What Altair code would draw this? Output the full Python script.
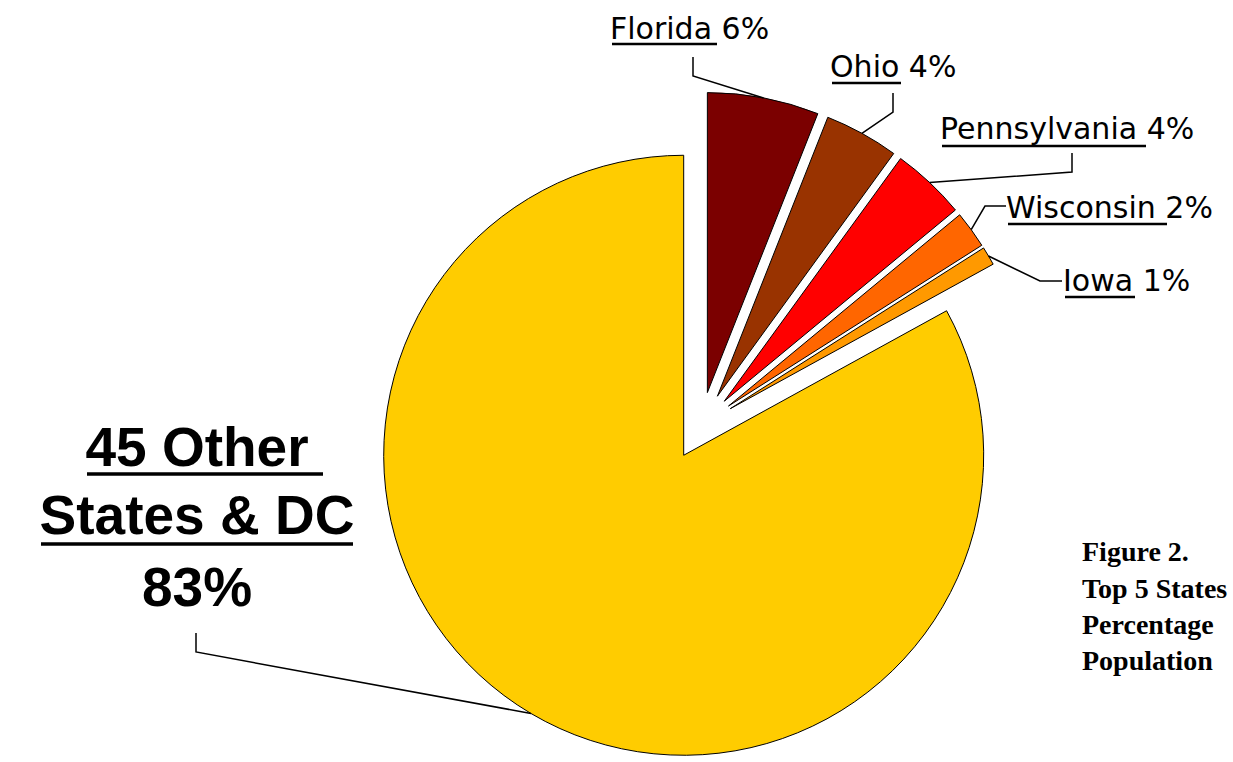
import math
import altair as alt
import pandas as pd

# ---------------- data ----------------
names = ["Florida", "Ohio", "Pennsylvania", "Wisconsin", "Iowa", "45 Other States & DC"]
shares = [6, 4, 4, 2, 1, 83]
colors = ["#7b0000", "#993300", "#ff0000", "#ff6600", "#ff9900", "#ffcc00"]

other_lines = ["45 Other", "States & DC", "83%"]
caption_lines = ["Figure 2.", "Top 5 States", "Percentage", "Population"]

# ---------------- layout ----------------
W, H = 1233, 762
CX, CY = 701, 426          # true pie centre (pixels)
R = 300                    # pie radius
EXPLODE = 34               # every slice pulled out along its bisector

# small labels: left x, baseline y, underline (x1, x2, y), leader start points
small_layout = {
    "Florida":      dict(x=610,  y=39,  ul=(612, 717, 44),   lead=[(693, 57), (693, 76)]),
    "Ohio":         dict(x=830,  y=77,  ul=(832, 901, 83),   lead=[(893, 93), (893, 112)]),
    "Pennsylvania": dict(x=940,  y=139, ul=(942, 1146, 146), lead=[(1072, 153), (1072, 172)]),
    "Wisconsin":    dict(x=1006, y=218, ul=(1008, 1167, 224), lead=[(1006, 206), (985, 206)]),
    "Iowa":         dict(x=1063, y=291, ul=(1065, 1135, 297), lead=[(1062, 281), (1040, 281)]),
}
other_layout = dict(x=197, ys=[466, 534, 606],
                    uls=[(87, 323, 474), (41, 353, 544)],
                    lead=[(196, 633), (196, 652)])
caption_layout = dict(x=1082, ys=[561, 598, 634, 670])

# ---------------- derived tables ----------------
total = float(sum(shares))
slice_rows = []
cum = 0.0
for i, (n, s) in enumerate(zip(names, shares)):
    start, end = cum, cum + s
    cum = end
    mid = (start + end) / 2 / total * 2 * math.pi
    slice_rows.append(dict(
        order=i, name=n, share=s,
        start=start / total * 100, end=end / total * 100,
        cx=CX + EXPLODE * math.sin(mid), cy=CY - EXPLODE * math.cos(mid),
        ex=CX + (EXPLODE + R) * math.sin(mid), ey=CY - (EXPLODE + R) * math.cos(mid),
    ))
slices = pd.DataFrame(slice_rows)

line_rows, ul_rows, text_rows = [], [], []
for r in slice_rows:
    n = r["name"]
    if n in small_layout:
        L = small_layout[n]
        text_rows.append(dict(name=n, label=f"{n} {r['share']}%", x=L["x"], y=L["y"]))
        x1, x2, yy = L["ul"]
        ul_rows.append(dict(name=n, x1=x1, x2=x2, y=yy, w=2.5))
        pts = L["lead"]
    else:
        for j, (x1, x2, yy) in enumerate(other_layout["uls"]):
            ul_rows.append(dict(name=f"{n}{j}", x1=x1, x2=x2, y=yy, w=3.5))
        pts = other_layout["lead"]
    pts = pts + [(r["ex"], r["ey"])]
    for k, (px_, py_) in enumerate(pts):
        line_rows.append(dict(name=n, seq=k, px=px_, py=py_))

lines_df = pd.DataFrame(line_rows)
ul_df = pd.DataFrame(ul_rows)
small_df = pd.DataFrame(text_rows)
other_df = pd.DataFrame(dict(label=other_lines, x=[other_layout["x"]] * 3, y=other_layout["ys"]))
cap_df = pd.DataFrame(dict(label=caption_lines, x=[caption_layout["x"]] * 4, y=caption_layout["ys"]))

# ---------------- chart ----------------
def px(field):
    return alt.X(f"{field}:Q", scale=None, axis=None)

def py(field):
    return alt.Y(f"{field}:Q", scale=None, axis=None)

pie = alt.Chart(slices).mark_arc(radius=R, stroke="black", strokeWidth=1).encode(
    theta=alt.Theta("start:Q", scale=alt.Scale(domain=[0, 100], range=[0, 2 * math.pi])),
    theta2=alt.Theta2("end:Q"),
    x=px("cx"), y=py("cy"),
    color=alt.Color("name:N", scale=alt.Scale(domain=names, range=colors), legend=None),
    order=alt.Order("order:Q"),
)

leaders = alt.Chart(lines_df).mark_line(color="black", strokeWidth=1.5).encode(
    x=px("px"), y=py("py"), detail="name:N", order="seq:Q"
)

underlines = alt.Chart(ul_df).mark_rule(color="black").encode(
    x=px("x1"), x2="x2:Q", y=py("y"),
    strokeWidth=alt.StrokeWidth("w:Q", scale=None),
)

small_text = alt.Chart(small_df).mark_text(
    align="left", baseline="alphabetic", font="DejaVu Sans", fontSize=30, color="black"
).encode(x=px("x"), y=py("y"), text="label:N")

other_text = alt.Chart(other_df).mark_text(
    align="center", baseline="alphabetic", font="Liberation Sans", fontSize=55,
    fontWeight="bold", color="black"
).encode(x=px("x"), y=py("y"), text="label:N")

caption = alt.Chart(cap_df).mark_text(
    align="left", baseline="alphabetic", font="Liberation Serif", fontSize=28,
    fontWeight="bold", color="black"
).encode(x=px("x"), y=py("y"), text="label:N")

chart = alt.layer(pie, leaders, underlines, small_text, other_text, caption).properties(
    width=W, height=H,
    autosize=alt.AutoSizeParams(type="none"),
    padding=0,
    background="white",
).resolve_scale(x="independent", y="independent").configure_view(stroke=None)

chart.save("out.html", embed_options={"renderer": "svg", "actions": False})
